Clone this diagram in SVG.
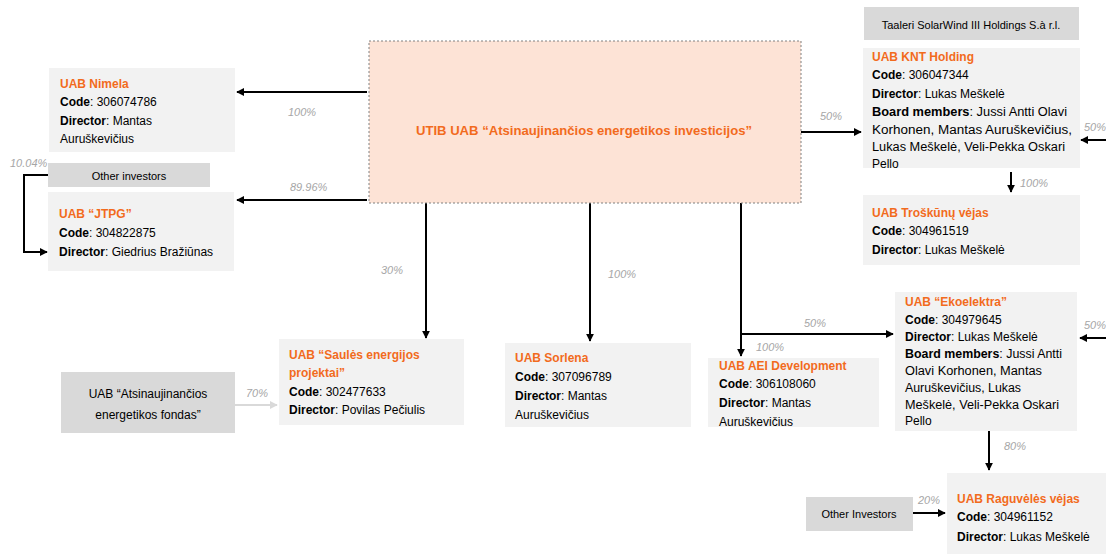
<svg xmlns="http://www.w3.org/2000/svg" width="1106" height="554" viewBox="0 0 1106 554">
<style>
text{font-family:"Liberation Sans",Arial,sans-serif;font-size:12px;fill:#000}
.box{fill:#f2f2f2}
.gbox{fill:#d9d9d9}
.t{fill:#f26b1d;font-weight:bold}
.b{font-weight:bold}
.pct{fill:#a6a6a6;font-style:italic;font-size:11px}
.ln{stroke:#000;stroke-width:2;fill:none}
.lg{stroke:#d9d9d9;stroke-width:2;fill:none}
</style>
<defs>
<marker id="ah" viewBox="0 0 10 10" refX="9" refY="5" markerWidth="4" markerHeight="4" orient="auto" markerUnits="strokeWidth"><path d="M0,0 L10,5 L0,10 z" fill="#000"/></marker>
<marker id="ahg" viewBox="0 0 10 10" refX="9" refY="5" markerWidth="4" markerHeight="4" orient="auto" markerUnits="strokeWidth"><path d="M0,0 L10,5 L0,10 z" fill="#d9d9d9"/></marker>
</defs>
<rect width="1106" height="554" fill="#fff"/>

<g id="connectors">
<path class="ln" d="M367,92 H237" marker-end="url(#ah)"/>
<path class="ln" d="M367,200 H237" marker-end="url(#ah)"/>
<path class="ln" d="M48,175 H24 V252 H47" marker-end="url(#ah)"/>
<path class="ln" d="M801,132 H861" marker-end="url(#ah)"/>
<path class="ln" d="M1106,140 H1081" marker-end="url(#ah)"/>
<path class="ln" d="M1011,172 V192" marker-end="url(#ah)"/>
<path class="ln" d="M426,203 V338" marker-end="url(#ah)"/>
<path class="ln" d="M590,203 V341" marker-end="url(#ah)"/>
<path class="ln" d="M741,203 V356" marker-end="url(#ah)"/>
<path class="ln" d="M741,334 H893" marker-end="url(#ah)"/>
<path class="ln" d="M1106,338 H1080" marker-end="url(#ah)"/>
<path class="ln" d="M989,431 V470" marker-end="url(#ah)"/>
<path class="ln" d="M913,513 H945" marker-end="url(#ah)"/>
<path class="lg" d="M235,405 H277" marker-end="url(#ahg)"/>
<text class="pct" x="288" y="116">100%</text>
<text class="pct" x="290" y="191">89.96%</text>
<text class="pct" x="10" y="167">10.04%</text>
<text class="pct" x="820" y="120">50%</text>
<text class="pct" x="1084" y="131">50%</text>
<text class="pct" x="1020" y="187">100%</text>
<text class="pct" x="381" y="274">30%</text>
<text class="pct" x="608" y="278">100%</text>
<text class="pct" x="804" y="327">50%</text>
<text class="pct" x="756" y="351">100%</text>
<text class="pct" x="1084" y="329">50%</text>
<text class="pct" x="246" y="397">70%</text>
<text class="pct" x="1004" y="450">80%</text>
<text class="pct" x="918" y="504">20%</text>
</g>

<g id="main">
<rect x="369" y="41" width="432" height="162" fill="#fde3d6" stroke="#808080" stroke-width="1" stroke-dasharray="2,2"/>
<text class="t" x="584" y="135" text-anchor="middle" textLength="336" lengthAdjust="spacingAndGlyphs" style="font-size:13px">UTIB UAB “Atsinaujinančios  energetikos investicijos”</text>
</g>

<g id="nimela">
<rect class="box" x="49" y="68" width="186" height="84"/>
<text class="t" x="60" y="88">UAB Nimela</text>
<text x="60" y="106"><tspan class="b">Code</tspan>: 306074786</text>
<text x="60" y="125"><tspan class="b">Director</tspan>: Mantas</text>
<text x="60" y="143">Auruškevičius</text>
</g>

<g id="other-investors-1">
<rect class="gbox" x="48" y="163" width="162" height="24"/>
<text x="129" y="180" text-anchor="middle" style="font-size:11px">Other investors</text>
</g>

<g id="jtpg">
<rect class="box" x="48" y="192" width="186" height="79"/>
<text class="t" x="59" y="218">UAB “JTPG”</text>
<text x="59" y="237"><tspan class="b">Code</tspan>: 304822875</text>
<text x="59" y="256"><tspan class="b">Director</tspan>: Giedrius Bražiūnas</text>
</g>

<g id="taaleri">
<rect class="gbox" x="864" y="7" width="215" height="33"/>
<text x="971" y="29" text-anchor="middle" style="font-size:11px">Taaleri SolarWind III Holdings S.à r.l.</text>
</g>

<g id="knt">
<rect class="box" x="863" y="48" width="217" height="120"/>
<text class="t" x="872" y="61">UAB KNT Holding</text>
<text x="872" y="79"><tspan class="b">Code</tspan>: 306047344</text>
<text x="872" y="98"><tspan class="b">Director</tspan>: Lukas Meškelė</text>
<text x="872" y="116" textLength="195" lengthAdjust="spacingAndGlyphs"><tspan class="b">Board members</tspan>: Jussi Antti Olavi</text>
<text x="872" y="134" textLength="200" lengthAdjust="spacingAndGlyphs">Korhonen, Mantas Auruškevičius,</text>
<text x="872" y="151" textLength="193" lengthAdjust="spacingAndGlyphs">Lukas Meškelė, Veli-Pekka Oskari</text>
<text x="872" y="168">Pello</text>
</g>

<g id="troskunu">
<rect class="box" x="863" y="195" width="217" height="70"/>
<text class="t" x="872" y="217">UAB Troškūnų vėjas</text>
<text x="872" y="235"><tspan class="b">Code</tspan>: 304961519</text>
<text x="872" y="254"><tspan class="b">Director</tspan>: Lukas Meškelė</text>
</g>

<g id="fondas">
<rect class="gbox" x="61" y="372" width="174" height="61"/>
<text x="148" y="398" text-anchor="middle">UAB “Atsinaujinančios</text>
<text x="148" y="419" text-anchor="middle">energetikos  fondas”</text>
</g>

<g id="saules">
<rect class="box" x="279" y="339" width="185" height="86"/>
<text class="t" x="289" y="359">UAB “Saulės energijos</text>
<text class="t" x="289" y="377">projektai”</text>
<text x="289" y="396"><tspan class="b">Code</tspan>: 302477633</text>
<text x="289" y="414"><tspan class="b">Director</tspan>: Povilas Pečiulis</text>
</g>

<g id="sorlena">
<rect class="box" x="505" y="343" width="186" height="84"/>
<text class="t" x="515" y="362">UAB Sorlena</text>
<text x="515" y="381"><tspan class="b">Code</tspan>: 307096789</text>
<text x="515" y="400"><tspan class="b">Director</tspan>: Mantas</text>
<text x="515" y="419">Auruškevičius</text>
</g>

<g id="aei">
<rect class="box" x="708" y="358" width="171" height="69"/>
<text class="t" x="719" y="370">UAB AEI Development</text>
<text x="719" y="388"><tspan class="b">Code</tspan>: 306108060</text>
<text x="719" y="407"><tspan class="b">Director</tspan>: Mantas</text>
<text x="719" y="426">Auruškevičius</text>
</g>

<g id="ekoelektra">
<rect class="box" x="895" y="292" width="182" height="139"/>
<text class="t" x="905" y="306">UAB “Ekoelektra”</text>
<text x="905" y="324"><tspan class="b">Code</tspan>: 304979645</text>
<text x="905" y="341"><tspan class="b">Director</tspan>: Lukas Meškelė</text>
<text x="905" y="358" textLength="157" lengthAdjust="spacingAndGlyphs"><tspan class="b">Board members</tspan>: Jussi Antti</text>
<text x="905" y="375" textLength="137" lengthAdjust="spacingAndGlyphs">Olavi Korhonen, Mantas</text>
<text x="905" y="392" textLength="116" lengthAdjust="spacingAndGlyphs">Auruškevičius, Lukas</text>
<text x="905" y="409" textLength="154" lengthAdjust="spacingAndGlyphs">Meškelė, Veli-Pekka Oskari</text>
<text x="905" y="425">Pello</text>
</g>

<g id="other-investors-2">
<rect class="gbox" x="806" y="497" width="107" height="34"/>
<text x="859" y="518" text-anchor="middle" style="font-size:11px">Other Investors</text>
</g>

<g id="raguveles">
<rect class="box" x="947" y="473" width="159" height="81"/>
<text class="t" x="957" y="503">UAB Raguvėlės vėjas</text>
<text x="957" y="521"><tspan class="b">Code</tspan>: 304961152</text>
<text x="957" y="541"><tspan class="b">Director</tspan>: Lukas Meškelė</text>
</g>
</svg>
